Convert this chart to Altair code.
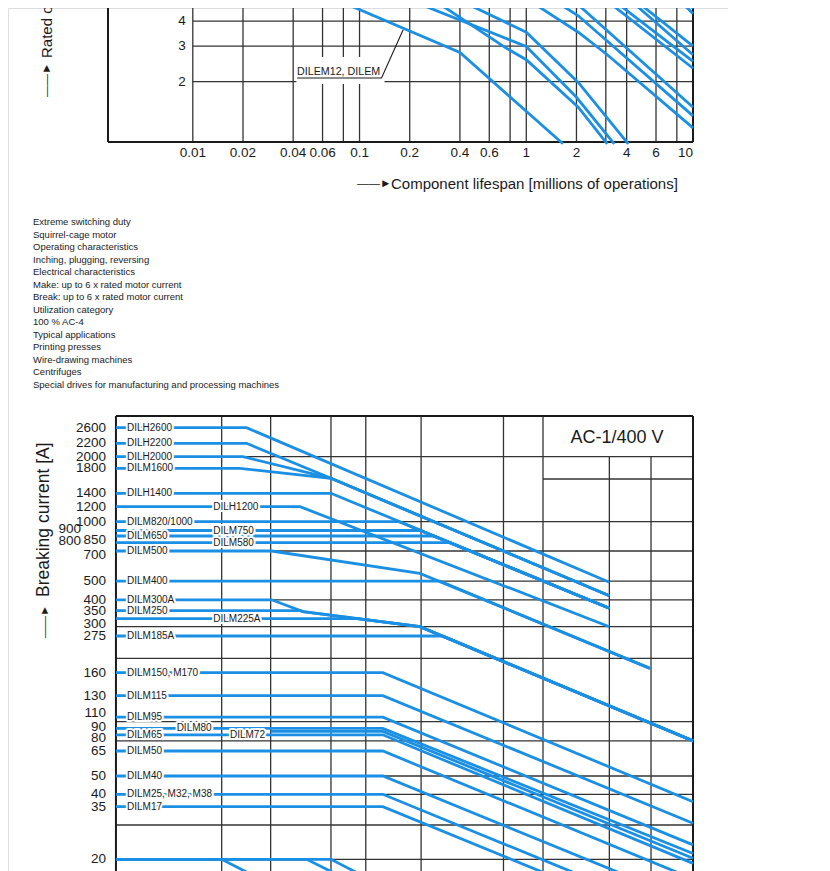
import altair as alt
import pandas as pd

BLUE = "#1a8fe3"
GRID = "#333333"
INK = "#1a1a1a"
SANS = "Liberation Sans, Arial, sans-serif"
ARROW = "——►"

# ---------------- top chart: component lifespan (lower part visible) ----------------
top_x_grid = [0.01, 0.02, 0.04, 0.06, 0.08, 0.1, 0.2, 0.4, 0.6, 0.8, 1, 2, 3, 4, 6, 8]
top_y_grid = [2, 3, 4]
top_x_ticks = [0.01, 0.02, 0.04, 0.06, 0.1, 0.2, 0.4, 0.6, 1, 2, 4, 6, 10]
top_x_tick_labels = ["0.01", "0.02", "0.04", "0.06", "0.1", "0.2", "0.4", "0.6", "1", "2", "4", "6", "10"]
top_y_ticks = [2, 3, 4]
top_y_tick_labels = ["2", "3", "4"]

top_curve_names = ["c1", "c2", "c3", "c4", "c5", "c6", "c7", "c8", "c9", "c10", "c11", "c12", "c13"]
top_curve_x = [
    [0.07, 0.4, 1.66],
    [0.19, 1.0, 2.0, 3.37],
    [0.27, 0.75, 1.0, 2.05, 3.06],
    [0.38, 1.0, 2.05, 4.09],
    [1.0, 2.05, 3.06, 10],
    [1.41, 2.05, 10],
    [1.86, 10],
    [2.93, 10],
    [3.23, 10],
    [4.09, 10],
    [4.38, 10],
    [8.17, 10],
    [9.38, 10],
]
top_curve_y = [
    [5.18, 2.79, 0.98],
    [5.18, 2.99, 1.67, 0.98],
    [5.18, 2.95, 2.57, 1.49, 0.98],
    [5.18, 3.52, 1.98, 0.98],
    [5.18, 3.52, 2.72, 1.175],
    [5.18, 4.25, 1.35],
    [5.18, 1.49],
    [5.18, 2.33],
    [5.18, 2.52],
    [5.18, 2.72],
    [5.18, 3.0],
    [5.18, 4.35],
    [5.18, 4.61],
]
top_note_text = "DILEM12, DILEM"
top_note_xy = [0.0422, 2.24]
top_note_leader_x = [0.0422, 0.1355, 0.1823]
top_note_leader_y = [2.083, 2.083, 3.61]
top_note_box = [0.0418, 0.1412, 1.945, 2.65]

top_x_title = "Component lifespan [millions of operations]"
top_y_title = "Rated operational current [A]"

# ---------------- text block ----------------
text_lines = [
    "Extreme switching duty",
    "Squirrel-cage motor",
    "Operating characteristics",
    "Inching, plugging, reversing",
    "Electrical characteristics",
    "Make: up to 6 x rated motor current",
    "Break: up to 6 x rated motor current",
    "Utilization category",
    "100 % AC-4",
    "Typical applications",
    "Printing presses",
    "Wire-drawing machines",
    "Centrifuges",
    "Special drives for manufacturing and processing machines",
]

# ---------------- bottom chart: AC-1/400 V breaking current ----------------
bot_scale_values = [20, 30, 35, 40, 50, 65, 80, 90, 100, 110, 130, 160, 200, 275, 300, 350,
                    400, 500, 700, 800, 850, 900, 1000, 1200, 1400, 1600, 1800, 2000, 2200, 2600]
bot_scale_pixels = [851.3, 817, 798.7, 786.3, 768, 743, 730.3, 718.7, 713.7, 704.7, 687.7, 664.7, 650.3, 628, 618.7,
                    602.7, 591.8, 573.2, 543, 534.7, 528, 522.5, 513.7, 498.7, 485.3, 471, 460.3, 448.7, 435.3, 419.7]

# tick labels: (values, column shift, small vertical nudge of crowded labels)
bot_tick_values = [2600, 2200, 2000, 1800, 1400, 1200, 1000, 500, 400, 350, 275,
                   160, 130, 110, 90, 80, 65, 50, 40, 35, 20]
bot_tick_values_down = [850, 700]
bot_tick_values_up = [300]
bot_tick_values_2 = [900, 800]

bot_vgrid_full = [0.0149, 0.0293, 0.0674, 0.109, 0.234, 0.73, 1.26]
bot_vgrid_lower = [3.15, 5.6]
bot_hgrid_full = [700, 500, 400, 300, 200, 100, 77, 50, 40, 30, 20]
bot_hgrid_part = [1000, 2000, 1600]
bot_hgrid_part_from = [0.17, 0.02, 1.26]
bot_left, bot_right, bot_top = 0.00346, 10, 2900

bot_names = ["DILH2600", "DILH2200", "DILH2000", "DILM1600", "DILH1400", "DILH1200", "DILM820/1000",
             "DILM750", "DILM650", "DILM580", "DILM500", "DILM400", "DILM300A", "DILM250", "DILM225A",
             "DILM185A", "DILM150, M170", "DILM115", "DILM95", "DILM80", "DILM72", "DILM65", "DILM50",
             "DILM40", "DILM25, M32, M38", "DILM17", "r20a", "r20b", "r20c"]
bot_x = [
    [0.00346, 0.021, 3.15],
    [0.00346, 0.021, 0.0674, 3.15],
    [0.00346, 0.02, 0.0674, 3.15],
    [0.00346, 0.0192, 0.0674, 3.15],
    [0.00346, 0.0674, 3.15],
    [0.00346, 0.044, 3.15],
    [0.00346, 0.1725, 3.15],
    [0.00346, 0.231, 3.15],
    [0.00346, 0.278, 3.15],
    [0.00346, 0.348, 3.15],
    [0.00346, 0.0297, 0.23, 5.52],
    [0.00346, 0.304, 5.52],
    [0.00346, 0.0297, 0.0458, 0.23, 10],
    [0.00346, 0.0442, 0.0458, 0.23, 10],
    [0.00346, 0.0975, 0.23, 10],
    [0.00346, 0.315, 10],
    [0.00346, 0.138, 10],
    [0.00346, 0.138, 10],
    [0.00346, 0.138, 10],
    [0.00346, 0.138, 10],
    [0.0293, 0.138, 10],
    [0.00346, 0.138, 10],
    [0.00346, 0.138, 10],
    [0.00346, 0.138, 10],
    [0.00346, 0.138, 3.0],
    [0.00346, 0.138, 2.0],
    [0.00346, 0.0149, 0.026],
    [0.00346, 0.0482, 0.085],
    [0.00346, 0.0674, 0.117],
]
bot_y = [
    [2600, 2600, 494],
    [2200, 2200, 1613, 422],
    [2000, 2000, 1613, 422],
    [1800, 1800, 1613, 422],
    [1400, 1400, 361],
    [1200, 1200, 300],
    [1000, 1000, 361],
    [900, 900, 361],
    [850, 850, 361],
    [800, 800, 361],
    [700, 700, 552, 172],
    [500, 500, 172],
    [400, 400, 347, 300, 77],
    [350, 350, 347, 300, 77],
    [325, 325, 300, 77],
    [275, 275, 77],
    [160, 160, 37],
    [130, 130, 30.5],
    [105, 105, 24.2],
    [88.5, 88.5, 21.7],
    [86, 86, 20.3],
    [83, 83, 18.8],
    [65, 65, 14.3],
    [50, 50, 7.3],
    [40, 40, 12.3],
    [35, 35, 12.2],
    [20, 20, 14],
    [20, 20, 14],
    [20, 20, 14],
]
bot_label_names = bot_names[:26]
bot_label_x = [0.00403, 0.00403, 0.00403, 0.00403, 0.00403, 0.01327, 0.00403, 0.01327, 0.00403, 0.01327,
               0.00403, 0.00403, 0.00403, 0.00403, 0.01327, 0.00403, 0.00403, 0.00403, 0.00403, 0.0080,
               0.0167, 0.00403, 0.00403, 0.00403, 0.00403, 0.00403]
bot_label_y = [2600, 2200, 2000, 1800, 1400, 1200, 1000, 900, 850, 800, 700, 500, 400, 350, 325, 275,
               160, 130, 105, 88.5, 82.5, 83, 65, 50, 40, 35]
bot_box_text = "AC-1/400 V"
bot_box_xy = [3.5, 2340]
bot_y_title = "Breaking current  [A]"


# ---------------- scales ----------------
def tx(f):
    return alt.X(f"{f}:Q", scale=alt.Scale(type="log", domain=[0.0031, 10], range=[100, 685], nice=False), axis=None)


def ty(f):
    return alt.Y(f"{f}:Q", scale=alt.Scale(type="log", domain=[1, 4], range=[134, 13.1], nice=False), axis=None)


def bx(f):
    return alt.X(f"{f}:Q", scale=alt.Scale(type="log", domain=[0.0031, 10], range=[100, 685], nice=False), axis=None)


def by(f):
    return alt.Y(f"{f}:Q", scale=alt.Scale(type="linear", domain=bot_scale_values, range=bot_scale_pixels,
                                          nice=False, zero=False), axis=None)


def lines_df(names, xs, ys):
    rows = []
    for n, xl, yl in zip(names, xs, ys):
        for i, (a, b) in enumerate(zip(xl, yl)):
            rows.append({"name": n, "i": i, "x": a, "y": b})
    return pd.DataFrame(rows)


def free_text(t, x, y, size, angle=0, align="left"):
    return alt.Chart(pd.DataFrame({"t": [t]})).mark_text(
        align=align, baseline="middle", angle=angle, font=SANS, fontSize=size, color=INK).encode(
        x=alt.value(x), y=alt.value(y), text="t:N")


def bot_ticks(values, dx, dy):
    return alt.Chart(pd.DataFrame({"y": values, "x": bot_left})).mark_text(
        align="right", baseline="middle", dx=dx, dy=dy, font=SANS, fontSize=13.5, color=INK).encode(
        x=bx("x"), y=by("y"), text="y:Q")


layers = []

# top gridlines
layers.append(alt.Chart(pd.DataFrame({"x": top_x_grid, "y1": 1.0, "y2": 6.0})).mark_rule(
    color=GRID, strokeWidth=1.3, clip=True).encode(x=tx("x"), y=ty("y1"), y2=alt.Y2("y2")))
layers.append(alt.Chart(pd.DataFrame({"y": top_y_grid, "x1": 0.01, "x2": 10.0})).mark_rule(
    color=GRID, strokeWidth=1.3, clip=True).encode(y=ty("y"), x=tx("x1"), x2=alt.X2("x2")))
# white box behind note
layers.append(alt.Chart(pd.DataFrame({"x1": [top_note_box[0]], "x2": [top_note_box[1]],
                                      "y1": [top_note_box[2]], "y2": [top_note_box[3]]})).mark_rect(
    fill="white").encode(x=tx("x1"), x2=alt.X2("x2"), y=ty("y1"), y2=alt.Y2("y2")))
# top frame
top_frame = pd.DataFrame({"x1": [0.0031, 0.0031, 10.0], "x2": [0.0031, 10.0, 10.0],
                          "y1": [1.0, 1.0, 1.0], "y2": [6.0, 1.0, 6.0]})
layers.append(alt.Chart(top_frame).mark_rule(color=INK, strokeWidth=2, clip=True).encode(
    x=tx("x1"), x2=alt.X2("x2"), y=ty("y1"), y2=alt.Y2("y2")))
# top curves
layers.append(alt.Chart(lines_df(top_curve_names, top_curve_x, top_curve_y)).mark_line(
    color=BLUE, strokeWidth=2.8, clip=True).encode(x=tx("x"), y=ty("y"), detail="name:N", order="i:Q"))
# note leader and text
layers.append(alt.Chart(pd.DataFrame({"x": top_note_leader_x, "y": top_note_leader_y, "i": [0, 1, 2]})).mark_line(
    color=INK, strokeWidth=1.1).encode(x=tx("x"), y=ty("y"), order="i:Q"))
layers.append(alt.Chart(pd.DataFrame({"x": [top_note_xy[0]], "y": [top_note_xy[1]], "t": [top_note_text]})).mark_text(
    align="left", baseline="middle", font=SANS, fontSize=10.7, color=INK).encode(x=tx("x"), y=ty("y"), text="t:N"))
# top tick labels
tdf = pd.DataFrame({"x": top_x_ticks, "t": top_x_tick_labels, "y": 1.0})
layers.append(alt.Chart(tdf).transform_filter("datum.t != '10'").mark_text(
    align="center", baseline="middle", dy=11, font=SANS, fontSize=13.5, color=INK).encode(
    x=tx("x"), y=ty("y"), text="t:N"))
layers.append(alt.Chart(tdf).transform_filter("datum.t == '10'").mark_text(
    align="right", baseline="middle", dy=11, font=SANS, fontSize=13.5, color=INK).encode(
    x=tx("x"), y=ty("y"), text="t:N"))
layers.append(alt.Chart(pd.DataFrame({"y": top_y_ticks, "t": top_y_tick_labels, "x": 0.01})).mark_text(
    align="right", baseline="middle", dx=-7, font=SANS, fontSize=13.5, color=INK).encode(
    x=tx("x"), y=ty("y"), text="t:N"))
# top titles (arrow + text)
layers.append(free_text(ARROW, 349, 176, 11.5))
layers.append(free_text(top_x_title, 383, 176, 15))
layers.append(free_text(ARROW, 39, 89, 11.5, angle=270))
layers.append(free_text(top_y_title, 39, 50, 15, angle=270))

# text block
layers.append(alt.Chart(pd.DataFrame({"row": list(range(len(text_lines))), "t": text_lines})).mark_text(
    align="left", baseline="middle", font=SANS, fontSize=9.5, color=INK).encode(
    x=alt.value(25),
    y=alt.Y("row:Q", scale=alt.Scale(domain=[0, 13], range=[214, 377], nice=False, zero=False), axis=None),
    text="t:N"))

# bottom gridlines
bg_rows = []
for v in bot_vgrid_full:
    bg_rows.append({"x1": v, "x2": v, "y1": bot_top, "y2": 0})
for v in bot_vgrid_lower:
    bg_rows.append({"x1": v, "x2": v, "y1": 2000, "y2": 0})
for v in bot_hgrid_full:
    bg_rows.append({"x1": bot_left, "x2": bot_right, "y1": v, "y2": v})
for v, f in zip(bot_hgrid_part, bot_hgrid_part_from):
    bg_rows.append({"x1": f, "x2": bot_right, "y1": v, "y2": v})
layers.append(alt.Chart(pd.DataFrame(bg_rows)).mark_rule(color=GRID, strokeWidth=1.3, clip=True).encode(
    x=bx("x1"), x2=alt.X2("x2"), y=by("y1"), y2=alt.Y2("y2")))
bot_frame = pd.DataFrame({"x1": [bot_left, bot_right, bot_left], "x2": [bot_left, bot_right, bot_right],
                          "y1": [bot_top, bot_top, bot_top], "y2": [0, 0, bot_top]})
layers.append(alt.Chart(bot_frame).mark_rule(color=INK, strokeWidth=2, clip=True).encode(
    x=bx("x1"), x2=alt.X2("x2"), y=by("y1"), y2=alt.Y2("y2")))
# bottom curves
layers.append(alt.Chart(lines_df(bot_names, bot_x, bot_y)).mark_line(
    color=BLUE, strokeWidth=2.8, clip=True).encode(x=bx("x"), y=by("y"), detail="name:N", order="i:Q"))
# curve labels with white halo
ldf = pd.DataFrame({"x": bot_label_x, "y": bot_label_y, "t": bot_label_names})
layers.append(alt.Chart(ldf).mark_text(align="left", baseline="middle", font=SANS, fontSize=10,
                                       stroke="white", strokeWidth=4, strokeJoin="round", fill="white").encode(
    x=bx("x"), y=by("y"), text="t:N"))
layers.append(alt.Chart(ldf).mark_text(align="left", baseline="middle", font=SANS, fontSize=10, color=INK).encode(
    x=bx("x"), y=by("y"), text="t:N"))
# bottom y tick labels (two columns, crowded ones nudged as in the original)
layers.append(bot_ticks(bot_tick_values, -10, 0))
layers.append(bot_ticks(bot_tick_values_down, -10, 3.5))
layers.append(bot_ticks(bot_tick_values_up, -10, -3))
layers.append(bot_ticks(bot_tick_values_2, -35, -1.5))
# box label and title
layers.append(alt.Chart(pd.DataFrame({"x": [bot_box_xy[0]], "y": [bot_box_xy[1]], "t": [bot_box_text]})).mark_text(
    align="center", baseline="middle", font=SANS, fontSize=18, color=INK).encode(
    x=bx("x"), y=by("y"), text="t:N"))
layers.append(free_text(ARROW, 37, 630, 11, angle=270))
layers.append(free_text(bot_y_title, 36, 589, 17.5, angle=270))

chart = alt.layer(*layers).resolve_scale(x="independent", y="independent").properties(
    width=720, height=863, padding=0, autosize=alt.AutoSizeParams(type="none")
).configure_view(stroke=None).configure(background="white")

chart.save("out.html", embed_options={"renderer": "svg", "actions": False})
